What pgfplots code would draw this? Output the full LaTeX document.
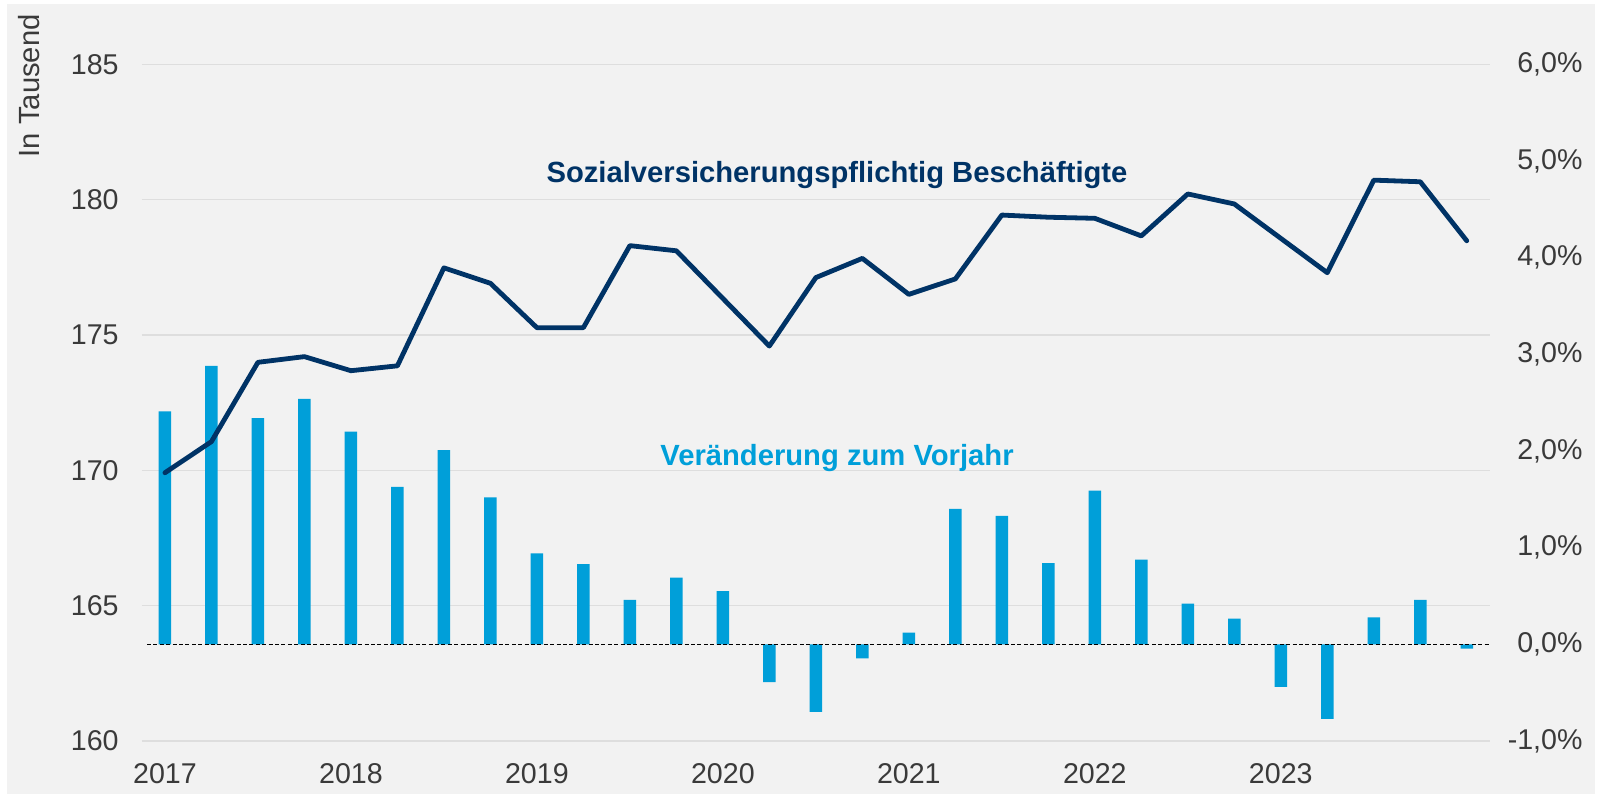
\documentclass[border=0pt]{standalone}
\usepackage{fontspec}
\setmainfont{Liberation Sans}
\usepackage{pgfplots}
\usepackage{pgfplotstable}
\pgfplotsset{compat=1.18}
\usetikzlibrary{backgrounds,calc}
\definecolor{bg}{HTML}{F2F2F2}
\definecolor{barblue}{HTML}{009FD9}
\definecolor{navy}{HTML}{003366}
\definecolor{ticktext}{HTML}{3A3A3A}
\definecolor{gridc}{HTML}{DEDEDE}

\pgfplotstableread{
i emp chg
0 169.91 2.41
1 171.06 2.88
2 173.99 2.34
3 174.20 2.54
4 173.68 2.20
5 173.86 1.63
6 177.48 2.01
7 176.91 1.52
8 175.27 0.94
9 175.27 0.83
10 178.30 0.46
11 178.11 0.69
12 176.35 0.55
13 174.59 -0.39
14 177.12 -0.70
15 177.83 -0.145
16 176.50 0.12
17 177.07 1.40
18 179.43 1.33
19 179.35 0.84
20 179.31 1.59
21 178.66 0.875
22 180.21 0.42
23 179.84 0.265
24 178.57 -0.44
25 177.30 -0.77
26 180.72 0.28
27 180.66 0.46
28 178.48 -0.045
}\datatable

\begin{document}
\begin{tikzpicture}
\pgfplotsset{
  common/.style={scale only axis, width=674.15bp, height=338.35bp,
    xmin=-0.5, xmax=28.5, axis line style={draw=none}, major tick length=0pt,
    clip=false,
    tick label style={font=\fontsize{14.3bp}{17bp}\selectfont, text=ticktext}},
}
\begin{axis}[common, axis y line*=right, ymin=-1, ymax=6, ytick={-1,0,...,6},
  yticklabels={{-1,0\%},{0,0\%},{1,0\%},{2,0\%},{3,0\%},{4,0\%},{5,0\%},{6,0\%}},
  extra y ticks={-1,0.4,1.8,3.2,4.6,6}, extra y tick labels={},
  extra y tick style={grid=major, major tick length=0pt},
  grid style={gridc, line width=0.6bp},
  xtick={0,4,...,24}, xticklabels={2017,2018,2019,2020,2021,2022,2023},
  xticklabel style={yshift=-7.6bp},
  yticklabel style={anchor=east, xshift=49.75bp}]
\addplot[ybar, bar width=6.25bp, fill=barblue, draw=none] table[x=i,y=chg]{\datatable};
\addplot[black, line width=0.4bp, dash pattern=on 2bp off 1.2bp] coordinates {(-0.386,0) (28.5,0)};
\end{axis}
\begin{axis}[common, axis y line*=left, ymin=160, ymax=185, ytick={160,165,...,185},
  yticklabels={160,165,170,175,180,185}, xtick=\empty,
  yticklabel style={xshift=-8bp}]
\addplot[navy, line width=2.4bp, line join=round, line cap=round] table[x=i,y=emp]{\datatable};
\node[anchor=base, font=\bfseries\fontsize{14.6bp}{17bp}\selectfont, text=navy, inner sep=0pt]
  at (axis cs:14.455,180.62) {Sozialversicherungspflichtig Beschäftigte};
\node[anchor=base, font=\bfseries\fontsize{14.6bp}{17bp}\selectfont, text=barblue, inner sep=0pt]
  at (axis cs:14.455,170.17) {Veränderung zum Vorjahr};
\node[rotate=90, anchor=east, inner sep=0pt, font=\fontsize{14.6bp}{17bp}\selectfont, text=ticktext]
  at (axis description cs:-0.0836,1.0743) {In Tausend};
\end{axis}
\begin{scope}[on background layer]
\fill[white] ($(current axis.south west)+(-70.85bp,-27bp)$) rectangle ($(current axis.north east)+(55.5bp,32.15bp)$);
\fill[bg] ($(current axis.south west)+(-67.35bp,-26.5bp)$) rectangle ($(current axis.north east)+(52.5bp,30.15bp)$);
\end{scope}
\end{tikzpicture}
\end{document}
